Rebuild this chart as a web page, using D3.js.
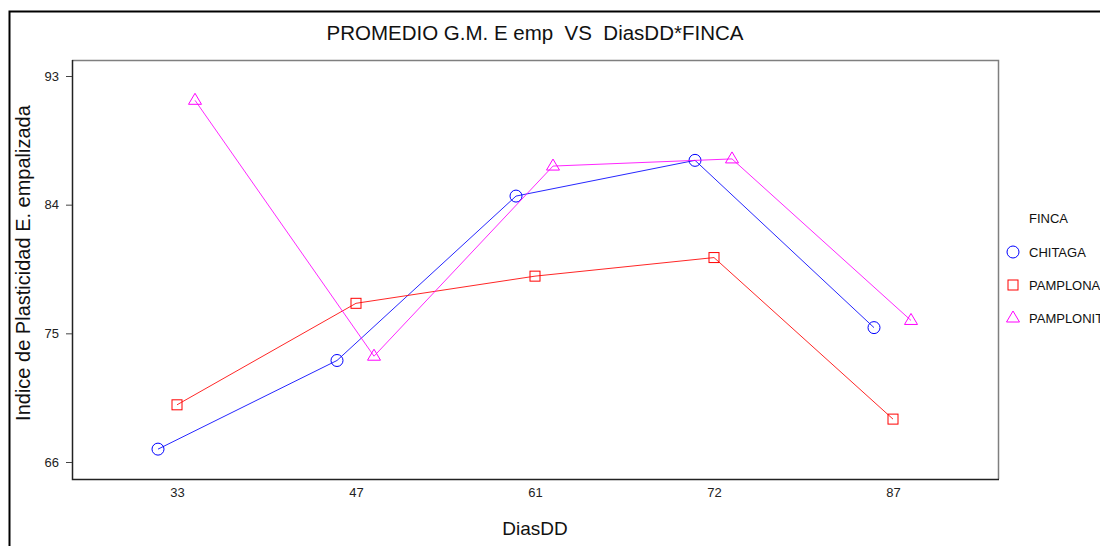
<!DOCTYPE html>
<html>
<head>
<meta charset="utf-8">
<script src="https://cdn.jsdelivr.net/npm/d3@7"></script>
<style>
  body { margin: 0; background: #fff; }
  svg { display: block; font-family: "Liberation Sans", Arial, sans-serif; }
</style>
</head>
<body>
<script>
const dias = ["33", "47", "61", "72", "87"];
const fincas = ["CHITAGA", "PAMPLONA", "PAMPLONITA"];
const chitaga = [66.9, 73.1, 84.6, 87.1, 75.4];
const pamplona = [70.0, 77.1, 79.0, 80.3, 69.0];
const pamplonita = [91.3, 73.4, 86.7, 87.2, 75.9];
const yTicks = [66, 75, 84, 93];

const series = [
  { name: fincas[0], values: chitaga, color: "#0000ff", shape: "circle", dx: -19 },
  { name: fincas[1], values: pamplona, color: "#ff0000", shape: "square", dx: 0 },
  { name: fincas[2], values: pamplonita, color: "#ff00ff", shape: "triangle", dx: 18 }
];

const W = 1100, H = 546;
const plotL = 72, plotR = 998, plotT = 60, plotB = 479;

const svg = d3.select("body").append("svg").attr("width", W).attr("height", H);

// outer frame
svg.append("path")
  .attr("d", `M9.5,${H + 5}V11.5H${W + 5}`)
  .attr("fill", "none").attr("stroke", "#000").attr("stroke-width", 2);

const x = d3.scalePoint().domain(dias).range([plotL + 105, plotR - 105]);
const y = d3.scaleLinear().domain([66, 93]).range([462, 76]);

// plot frame: grey top/right, dark left/bottom
svg.append("path")
  .attr("d", `M${plotL},${plotT + 0.5}H${plotR + 0.5}V${plotB}`)
  .attr("fill", "none").attr("stroke", "#7f7f7f").attr("stroke-width", 1.5);
svg.append("path")
  .attr("d", `M${plotL + 0.5},${plotT}V${plotB + 0.5}H${plotR + 1}`)
  .attr("fill", "none").attr("stroke", "#222").attr("stroke-width", 1.5);

// y axis
const yAxis = svg.append("g").attr("transform", `translate(${plotL},0)`)
  .call(d3.axisLeft(y).tickValues(yTicks).tickSize(6).tickPadding(7).tickFormat(d3.format("d")));
yAxis.select(".domain").remove();
yAxis.selectAll("line").attr("stroke", "#444");
yAxis.selectAll("text").attr("font-size", 13).attr("fill", "#222")
  .attr("font-family", "Liberation Sans, Arial, sans-serif");

// x axis
const xAxis = svg.append("g").attr("transform", `translate(0,${plotB})`)
  .call(d3.axisBottom(x).tickSize(0).tickPadding(9));
xAxis.select(".domain").remove();
xAxis.selectAll("text").attr("font-size", 13).attr("fill", "#222")
  .attr("font-family", "Liberation Sans, Arial, sans-serif");

// titles
svg.append("text").attr("x", 535).attr("y", 40).attr("text-anchor", "middle")
  .attr("font-size", 20.5).attr("fill", "#111").style("white-space", "pre")
  .text("PROMEDIO G.M. E emp  VS  DiasDD*FINCA");
svg.append("text").attr("x", 535).attr("y", 535).attr("text-anchor", "middle")
  .attr("font-size", 19).attr("fill", "#111").text("DiasDD");
svg.append("text").attr("transform", "translate(30,263) rotate(-90)")
  .attr("text-anchor", "middle").attr("font-size", 20).attr("fill", "#111")
  .text("Indice de Plasticidad E. empalizada");

const marker = (g, shape, color) => {
  if (shape === "circle") {
    g.append("circle").attr("r", 6).attr("fill", "none").attr("stroke", color);
  } else if (shape === "square") {
    g.append("rect").attr("x", -5).attr("y", -5).attr("width", 10).attr("height", 10)
      .attr("fill", "none").attr("stroke", color);
  } else {
    g.append("path").attr("d", "M0,-7L6.5,4L-6.5,4Z").attr("fill", "none").attr("stroke", color);
  }
};

const line = d3.line();
series.forEach((s) => {
  const pts = s.values.map((v, i) => [x(dias[i]) + s.dx, y(v)]);
  svg.append("path").attr("d", line(pts)).attr("fill", "none")
    .attr("stroke", s.color).attr("stroke-width", 1).attr("opacity", 0.85);
  pts.forEach((p) => {
    const g = svg.append("g").attr("transform", `translate(${p[0]},${p[1]})`);
    marker(g, s.shape, s.color);
  });
});

// legend
const lg = svg.append("g").attr("transform", "translate(1013,0)");
lg.append("text").attr("x", 16).attr("y", 223).attr("font-size", 13).attr("fill", "#111").text("FINCA");
series.forEach((s, i) => {
  const cy = 252 + i * 33;
  const g = lg.append("g").attr("transform", `translate(0,${cy})`);
  marker(g, s.shape, s.color);
  lg.append("text").attr("x", 16).attr("y", cy + 4.5).attr("font-size", 13).attr("fill", "#111").text(s.name);
});
</script>
</body>
</html>
